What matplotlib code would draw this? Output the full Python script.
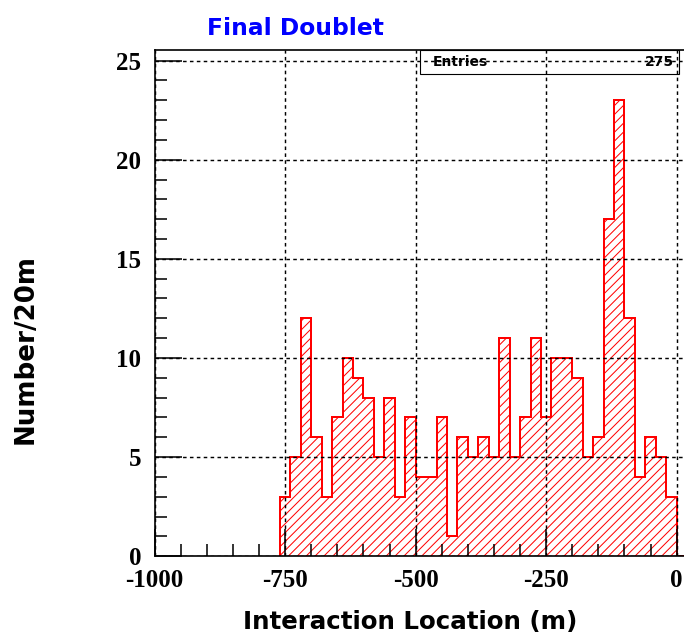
import numpy as np
import matplotlib
matplotlib.use("Agg")
import matplotlib.pyplot as plt
from matplotlib.ticker import MultipleLocator, FixedLocator
from matplotlib.patches import Rectangle

# ---- data ----
title = "Final Doublet"
x_label = "Interaction Location (m)"
y_label = "Number/20m"
bin_low = -760
bin_width = 20
counts = [3, 5, 12, 6, 3, 7, 10, 9, 8, 5, 8, 3, 7, 4, 4, 7, 1, 6, 5, 6,
          5, 11, 5, 7, 11, 7, 10, 10, 9, 5, 6, 17, 23, 12, 4, 6, 5, 3, 0]
entries = 275
x_ticks = [-1000, -750, -500, -250, 0]
y_ticks = [0, 5, 10, 15, 20, 25]

edges = bin_low + bin_width * np.arange(len(counts) + 1)

DPI = 80
W, H = 684, 634
plt.rcParams["lines.scale_dashes"] = False
plt.rcParams["hatch.color"] = "red"
plt.rcParams["hatch.linewidth"] = 0.9

fig = plt.figure(figsize=(W / DPI, H / DPI), dpi=DPI)
fig.patch.set_facecolor("white")

x0, x1 = 154.7, 684.0
y0, y1 = 556.3, 50.0
ax = fig.add_axes([x0 / W, (H - y0) / H, (x1 - x0) / W, (y0 - y1) / H])
ax.set_xlim(-1000, 14)
ax.set_ylim(0, 25.53)

ax.bar(edges[:-1], counts, width=bin_width, align="edge", fill=False,
       hatch="///", edgecolor="red", linewidth=0)
ax.stairs(counts, edges, color="red", linewidth=1.8)

ax.xaxis.set_major_locator(FixedLocator(x_ticks))
ax.xaxis.set_minor_locator(MultipleLocator(50))
ax.yaxis.set_major_locator(FixedLocator(y_ticks))
ax.yaxis.set_minor_locator(MultipleLocator(1))
ax.set_xticklabels([str(v) for v in x_ticks])
ax.set_yticklabels([str(v) for v in y_ticks])

ax.grid(True, which="major", color="black", linestyle=(0, (3.2, 3)), linewidth=1.3)
ax.set_axisbelow(False)

ax.tick_params(which="both", direction="in", top=False, right=False,
               width=1.4, color="black")
ax.tick_params(which="major", length=24)
ax.tick_params(which="minor", length=10.5)
ax.tick_params(axis="x", which="major", pad=11)
ax.tick_params(axis="y", which="major", pad=12)

for lab in ax.get_xticklabels() + ax.get_yticklabels():
    lab.set_fontfamily("Liberation Serif")
    lab.set_fontweight("bold")
    lab.set_fontsize(22.5)

for s in ["top", "left", "bottom"]:
    ax.spines[s].set_linewidth(1.5)
    ax.spines[s].set_color("black")
ax.spines["right"].set_visible(False)

# stats box
bx0 = (420 - x0) / (x1 - x0)
bx1 = (679 - x0) / (x1 - x0)
by0 = (y0 - 73.5) / (y0 - y1)
ax.add_patch(Rectangle((bx0, by0), bx1 - bx0, 1 - by0, transform=ax.transAxes,
                       fill=False, edgecolor="black", linewidth=1.0, clip_on=False))
ax.text((433 - x0) / (x1 - x0), (y0 - 62) / (y0 - y1), "Entries",
        transform=ax.transAxes, ha="left", va="center",
        family="DejaVu Sans", weight="bold", size=12.5)
ax.text((674 - x0) / (x1 - x0), (y0 - 62) / (y0 - y1), str(entries),
        transform=ax.transAxes, ha="right", va="center",
        family="DejaVu Sans", weight="bold", size=12.5)

# labels
fig.text(295 / W, (H - 35) / H, title, ha="center", va="baseline",
         family="DejaVu Sans", weight="bold", size=21, color="#0000ff")
fig.text(410.5 / W, (H - 629) / H, x_label, ha="center", va="baseline",
         family="DejaVu Sans", weight="bold", size=22)
fig.text(26 / W, (H - 349) / H, y_label, ha="center", va="center", rotation=90,
         family="DejaVu Sans", weight="bold", size=23.5)

fig.savefig("out.png", dpi=DPI)
